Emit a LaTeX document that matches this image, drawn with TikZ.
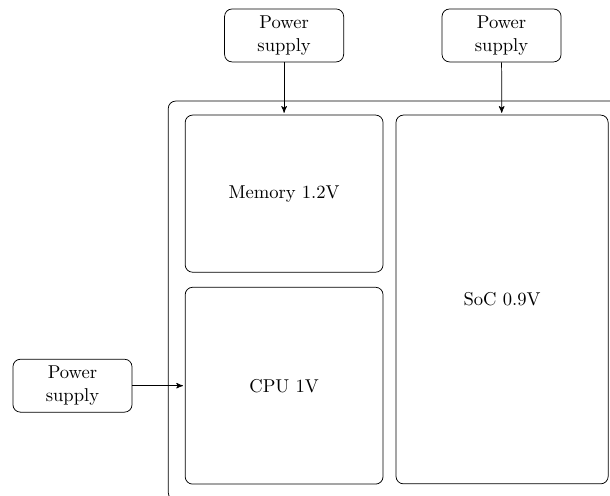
\documentclass[tikz,border=0pt]{standalone}
\usetikzlibrary{arrows}

\begin{document}
\begin{tikzpicture}[->,>=stealth',shorten >=1pt,auto,
  supply node/.style={draw,rounded corners,align=center,minimum width=2.25cm,minimum height=1cm},
  rail node/.style={draw,rounded corners,minimum width=3.74cm}]

  \clip (0,0) rectangle (11.53,-9.37);

  \draw[-,rounded corners] (3.18,-1.91) rectangle (11.81,-9.45);

  \node[rail node,minimum height=2.97cm] (mem) at (5.37,-3.66) {Memory 1.2V};
  \node[rail node,minimum height=3.72cm] (cpu) at (5.37,-7.29) {CPU 1V};
  \node[rail node,minimum width=4.01cm,minimum height=6.97cm] (soc) at (9.49,-5.66) {SoC 0.9V};

  \node[supply node] (psmem) at (5.37,-0.67) {Power\\supply};
  \node[supply node] (pssoc) at (9.48,-0.67) {Power\\supply};
  \node[supply node] (pscpu) at (1.37,-7.29) {Power\\supply};

  \path
    (psmem) edge (mem)
    (pssoc) edge (soc)
    (pscpu) edge (cpu);
\end{tikzpicture}
\end{document}
